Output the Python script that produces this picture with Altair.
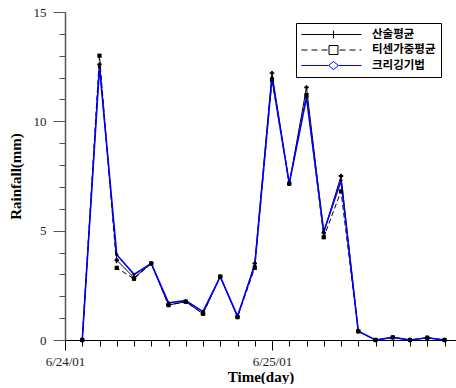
import altair as alt
import pandas as pd

# ---------------- data ----------------
series = ["산술평균", "티센가중평균", "크리깅기법"]
start_day = "2001-06-24"
hours = [2, 4, 6, 8, 10, 12, 14, 16, 18, 20, 22, 24, 26, 28, 30, 32, 34, 36, 38, 40, 42, 44]
arith = [0, 12.6, 3.65, 2.85, 3.5, 1.6, 1.75, 1.2, 2.9, 1.05, 3.5, 12.2, 7.15, 11.55, 4.9, 7.5, 0.4, 0, 0.12, 0, 0.1, 0]
thiessen = [0, 13.0, 3.3, 2.8, 3.5, 1.6, 1.75, 1.2, 2.9, 1.05, 3.3, 11.9, 7.15, 11.2, 4.7, 6.8, 0.4, 0, 0.12, 0, 0.1, 0]
kriging = [0, 12.5, 3.9, 3.0, 3.5, 1.7, 1.8, 1.3, 2.9, 1.1, 3.4, 12.0, 7.15, 11.1, 4.95, 7.3, 0.4, 0, 0.12, 0, 0.1, 0]
y_ticks = list(range(0, 16))
x_tick_hours = list(range(0, 46, 2))
colors = ["black", "black", "blue"]

times = [pd.Timestamp(start_day) + pd.Timedelta(hours=h) for h in hours]
rows = []
for name, vals in zip(series, [arith, thiessen, kriging]):
    for t, v in zip(times, vals):
        rows.append({"time": t, "rain": v, "series": name})
df = pd.DataFrame(rows)

def dt(h, m=0):
    return alt.DateTime(year=2001, month=6, date=24 + h // 24, hours=h % 24, minutes=m)

x_enc = alt.X(
    "time:T",
    scale=alt.Scale(domain=[dt(0), dt(45, 20)]),
    axis=alt.Axis(
        values=[dt(h) for h in x_tick_hours],
        labelExpr="hours(datum.value) === 0 ? timeFormat(datum.value, '%-m/%-d/%y') : ''",
        tickSize={"expr": "hours(datum.value) === 0 ? 10 : 6"},
        title="Time(day)",
        titleFontSize=15,
        labelPadding=5,
        titlePadding=1,
        labelAngle=0,
        labelFlush=False,
        labelOverlap=False,
        grid=False,
    ),
)
y_enc = alt.Y(
    "rain:Q",
    scale=alt.Scale(domain=[0, 15], nice=False),
    axis=alt.Axis(
        values=y_ticks,
        labelExpr="datum.value % 5 === 0 ? datum.label : ''",
        tickSize={"expr": "datum.value % 5 === 0 ? 12 : 6"},
        title="Rainfall(mm)",
        labelPadding=7,
        titlePadding=10,
        labelFlush=False,
        grid=False,
        domainColor="#555555",
        tickColor="#555555",
        domainWidth=1.5,
    ),
)

base = alt.Chart(df)

line_arith = base.transform_filter(alt.datum.series == series[0]).mark_line(
    color="black", strokeWidth=1).encode(x=x_enc, y=y_enc)
line_thiessen = base.transform_filter(alt.datum.series == series[1]).mark_line(
    color="black", strokeWidth=1, strokeDash=[5, 3]).encode(x=x_enc, y=y_enc)
line_kriging = base.transform_filter(alt.datum.series == series[2]).mark_line(
    color="blue", strokeWidth=1.6).encode(x=x_enc, y=y_enc)

pts_arith = base.transform_filter(alt.datum.series == series[0]).mark_point(
    shape="cross", filled=True, color="black", size=20, opacity=1).encode(x=x_enc, y=y_enc)
pts_thiessen = base.transform_filter(alt.datum.series == series[1]).mark_point(
    shape="square", filled=True, color="black", size=18, opacity=1).encode(x=x_enc, y=y_enc)
pts_kriging = base.transform_filter(alt.datum.series == series[2]).mark_point(
    shape="diamond", filled=True, color="black", size=14, opacity=1).encode(x=x_enc, y=y_enc)

# legend symbols: line segment + marker as custom paths (unit = 6px)
plus_path = "M-1,0H9M4.33,-0.65V0.65"
square_path = ("M-1,0H0M0.667,0H1.667M2.333,0H3.333"
               "M3.583,-0.75H5.083V0.75H3.583Z"
               "M5.333,0H6.333M7,0H8M8.667,0H9")
diamond_path = "M-1,0H3.5M3.5,0L4.333,-0.667L5.167,0L4.333,0.667ZM5.167,0H9"
sym_paths = [plus_path, square_path, diamond_path]

leg = alt.Legend(
    title=None, orient="none", legendX=231, legendY=11,
    padding=5, strokeColor="black", fillColor="white",
    symbolSize=144, symbolStrokeWidth=1, symbolFillColor="white",
    labelFont="Noto Sans CJK KR", labelFontWeight="bold", labelFontSize=11.5,
    labelColor="black", labelOffset=58, rowPadding=2.5,
)
legend_layer = base.transform_filter("false").mark_point(filled=False, opacity=1, strokeWidth=1).encode(
    x=x_enc, y=y_enc,
    shape=alt.Shape("series:N", scale=alt.Scale(domain=series, range=sym_paths), legend=leg),
    color=alt.Color("series:N", scale=alt.Scale(domain=series, range=colors), legend=leg),
)

chart = alt.layer(
    line_arith, line_thiessen, line_kriging,
    pts_arith, pts_thiessen, pts_kriging, legend_layer,
).properties(
    width=391, height=328,
    padding={"left": 8, "top": 6, "right": 0, "bottom": 0},
).configure_view(stroke=None).configure_axis(
    labelFont="Liberation Serif", labelFontSize=13, labelColor="#222222",
    titleFont="Liberation Serif", titleFontSize=15, titleFontWeight="bold", titleColor="black",
    domainColor="black", tickColor="black",
)

chart.save("out.html", embed_options={"renderer": "svg", "actions": False})
